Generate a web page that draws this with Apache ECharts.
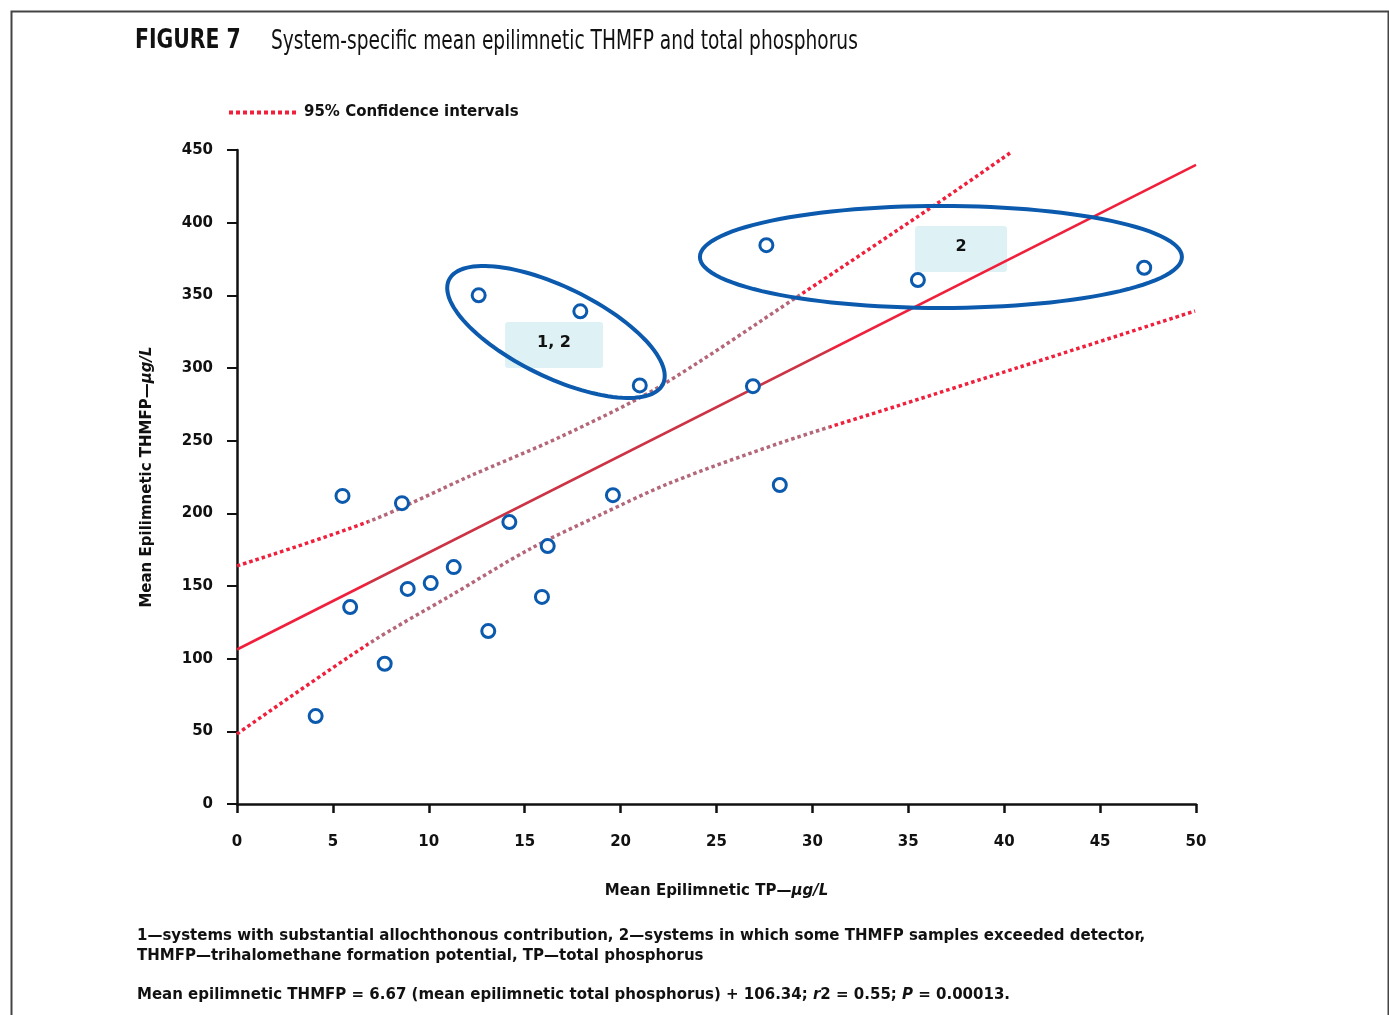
<!DOCTYPE html>
<html>
<head>
<meta charset="utf-8">
<script src="https://cdn.jsdelivr.net/npm/echarts@6/dist/echarts.min.js"></script>
<style>
html,body{margin:0;padding:0;background:#fff;}
#chart{width:1389px;height:1015px;}
</style>
</head>
<body>
<div id="chart"></div>
<script>
// ---- data ----
var tpValues    = [4.1, 5.5, 5.9, 7.7, 8.6, 8.9, 10.1, 11.3, 13.1, 14.2, 15.9, 16.2, 19.6, 12.6, 17.9, 21.0, 26.9, 27.6, 28.3, 35.5, 47.3];
var thmfpValues = [60.5, 212, 135.5, 96.5, 207, 148, 152, 163, 119, 194, 142.5, 177.5, 212.5, 350, 339, 288, 287.5, 384.5, 219.5, 360.5, 369];

var fitX = [0, 50];
var fitY = [106.3, 439.8];

var upperCIx = [0, 6.93, 12.15, 16.84, 21.9, 29.35, 36.39, 40.3];
var upperCIy = [163.8, 194.7, 225.7, 252.5, 286.2, 350.2, 412.2, 447.9];
var lowerCIx = [0, 6.93, 11.1, 15.28, 18.93, 22.58, 28.31, 34.57, 40.82, 49.95];
var lowerCIy = [48.2, 110.8, 143.1, 175.5, 198.9, 220.9, 248.4, 274.5, 300.7, 339.2];

var groupLabels  = ['1, 2', '2'];
var groupCenterX = [16.53, 37.75];
var groupCenterY = [315.8, 381.9];
var ellipseCenterX = [16.63, 36.7];
var ellipseCenterY = [324.8, 376.4];

var xTicks = [0, 5, 10, 15, 20, 25, 30, 35, 40, 45, 50];
var yTicks = [0, 50, 100, 150, 200, 250, 300, 350, 400, 450];

// ---- styling constants ----
var RED = '#f0203c';
var MUTED_FIT = '#cc3446';
var MUTED_CI = '#b5677a';
var BLUE = '#0b5aad';
var BOLD = '"DejaVu Sans", "Liberation Sans", sans-serif';
var COND = '"DejaVu Sans Condensed", "DejaVu Sans", sans-serif';
var ellipseShape = [ {a:119, b:45, rot:26}, {a:241, b:51, rot:0} ];
var boxSize = [ {w:98, h:46}, {w:92, h:46} ];
var fadeStart = 6.93;
var fadeEnd = [29.35, 30.9, 30.9]; // upper, lower, fit

function zip(xs, ys){ return xs.map(function(x,i){ return [x, ys[i]]; }); }
function fadeGradient(xs, xe, muted){
  var xmin = Math.min.apply(null, xs), xmax = Math.max.apply(null, xs);
  var f1 = (fadeStart - xmin)/(xmax - xmin), f2 = (xe - xmin)/(xmax - xmin);
  return new echarts.graphic.LinearGradient(0,0,1,0,[
    {offset:0,color:RED},{offset:f1,color:RED},
    {offset:f1,color:muted},{offset:f2,color:muted},
    {offset:f2,color:RED},{offset:1,color:RED}
  ]);
}

var chart = echarts.init(document.getElementById('chart'), null, {renderer:'canvas'});

var option = {
  backgroundColor:'#fff',
  animation:false,
  grid:{left:237, right:193, top:150, bottom:211},
  legend:{
    left:222, top:100, itemWidth:68, itemHeight:10, itemGap:10,
    data:['95% Confidence intervals'],
    textStyle:{fontFamily:BOLD, fontSize:15, fontWeight:'bold', color:'#111', padding:[0,0,0,2]},
    lineStyle:{color:RED, width:4, type:[4,3]},
    itemStyle:{opacity:0}
  },
  xAxis:{
    type:'value', min:0, max:50, interval:5,
    name:'Mean Epilimnetic TP\u2014{i|\u00b5g/L}', nameLocation:'middle', nameGap:80,
    nameTextStyle:{fontFamily:BOLD, fontSize:15, fontWeight:'bold', color:'#111',
      rich:{i:{fontFamily:BOLD, fontSize:15, fontWeight:'bold', fontStyle:'italic', color:'#111'}}},
    axisLine:{lineStyle:{color:'#111', width:2.5}},
    axisTick:{inside:false, length:9, lineStyle:{color:'#111', width:2.5}},
    axisLabel:{margin:31, fontFamily:BOLD, fontSize:15, fontWeight:'bold', color:'#111'},
    splitLine:{show:false}
  },
  yAxis:{
    type:'value', min:0, max:450, interval:50,
    name:'Mean Epilimnetic THMFP\u2014{i|\u00b5g/L}', nameLocation:'middle', nameGap:82, nameRotate:90,
    nameTextStyle:{fontFamily:BOLD, fontSize:15, fontWeight:'bold', color:'#111',
      rich:{i:{fontFamily:BOLD, fontSize:15, fontWeight:'bold', fontStyle:'italic', color:'#111'}}},
    axisLine:{show:true, lineStyle:{color:'#111', width:2.5}},
    axisTick:{show:true, inside:false, length:10, lineStyle:{color:'#111', width:2}},
    axisLabel:{margin:24, fontFamily:BOLD, fontSize:15, fontWeight:'bold', color:'#111'},
    splitLine:{show:false}
  },
  series:[
    {
      name:'Regression', type:'line', data:zip(fitX, fitY), symbol:'none', silent:true, z:3,
      lineStyle:{width:2.6, color:fadeGradient(fitX, fadeEnd[2], MUTED_FIT)}
    },
    {
      name:'95% Confidence intervals', type:'line', data:zip(upperCIx, upperCIy), symbol:'none', smooth:0.3, silent:true, z:3,
      lineStyle:{width:3.5, type:[3.5,3], color:fadeGradient(upperCIx, fadeEnd[0], MUTED_CI)}
    },
    {
      name:'95% Confidence intervals', type:'line', data:zip(lowerCIx, lowerCIy), symbol:'none', smooth:0.3, silent:true, z:3,
      lineStyle:{width:3.5, type:[3.5,3], color:fadeGradient(lowerCIx, fadeEnd[1], MUTED_CI)}
    },
    {
      name:'Label boxes', type:'custom', z:2, silent:true,
      data: zip(groupCenterX, groupCenterY),
      renderItem:function(params, api){
        var i = params.dataIndex;
        var p = api.coord([api.value(0), api.value(1)]);
        var s = boxSize[i];
        return {
          type:'group',
          children:[
            {type:'rect', shape:{x:p[0]-s.w/2, y:p[1]-s.h/2, width:s.w, height:s.h, r:3},
             style:{fill:'#def2f6'}},
            {type:'text', style:{text:groupLabels[i], x:p[0], y:p[1]-2, align:'center', verticalAlign:'middle',
             font:'bold 16px ' + BOLD, fill:'#111'}}
          ]
        };
      }
    },
    {
      name:'Groups', type:'custom', z:4, silent:true,
      data: zip(ellipseCenterX, ellipseCenterY),
      renderItem:function(params, api){
        var i = params.dataIndex;
        var c = api.coord([api.value(0), api.value(1)]);
        var e = ellipseShape[i];
        var th = e.rot*Math.PI/180, pts = [];
        for (var k=0;k<=120;k++){
          var t = k/120*2*Math.PI;
          var ux = e.a*Math.cos(t), uy = e.b*Math.sin(t);
          pts.push([c[0] + ux*Math.cos(th) - uy*Math.sin(th), c[1] + ux*Math.sin(th) + uy*Math.cos(th)]);
        }
        return {type:'polygon', shape:{points:pts}, style:{fill:null, stroke:BLUE, lineWidth:4}};
      }
    },
    {
      name:'Systems', type:'scatter', data:zip(tpValues, thmfpValues), z:5,
      symbol:'circle', symbolSize:13,
      itemStyle:{color:'#fff', borderColor:BLUE, borderWidth:3, opacity:1}
    }
  ],
  graphic:[
    {type:'rect', left:9, top:9, shape:{width:1377, height:1020}, style:{fill:null, stroke:'#444', lineWidth:2}, silent:true},
    {type:'text', x:135, y:41, scaleX:0.84, style:{text:'FIGURE 7', font:'bold 27px ' + COND, fill:'#111', verticalAlign:'middle'}},
    {type:'text', x:271, y:42, scaleX:0.795, style:{text:'System-specific mean epilimnetic THMFP and total phosphorus', font:'26px ' + COND, fill:'#111', verticalAlign:'middle'}},
    {type:'text', x:137, y:926, style:{
      text:'1\u2014systems with substantial allochthonous contribution, 2\u2014systems in which some THMFP samples exceeded detector,\nTHMFP\u2014trihalomethane formation potential, TP\u2014total phosphorus',
      font:'bold 15px ' + BOLD, fill:'#111', lineHeight:20}},
    {type:'text', x:137, y:988, style:{
      text:'Mean epilimnetic THMFP = 6.67 (mean epilimnetic total phosphorus) + 106.34; {i|r}2 = 0.55; {i|P} = 0.00013.',
      font:'bold 15px ' + BOLD, fill:'#111',
      rich:{i:{font:'italic bold 15px ' + BOLD, fill:'#111'}}}}
  ]
};
chart.setOption(option);
</script>
</body>
</html>
